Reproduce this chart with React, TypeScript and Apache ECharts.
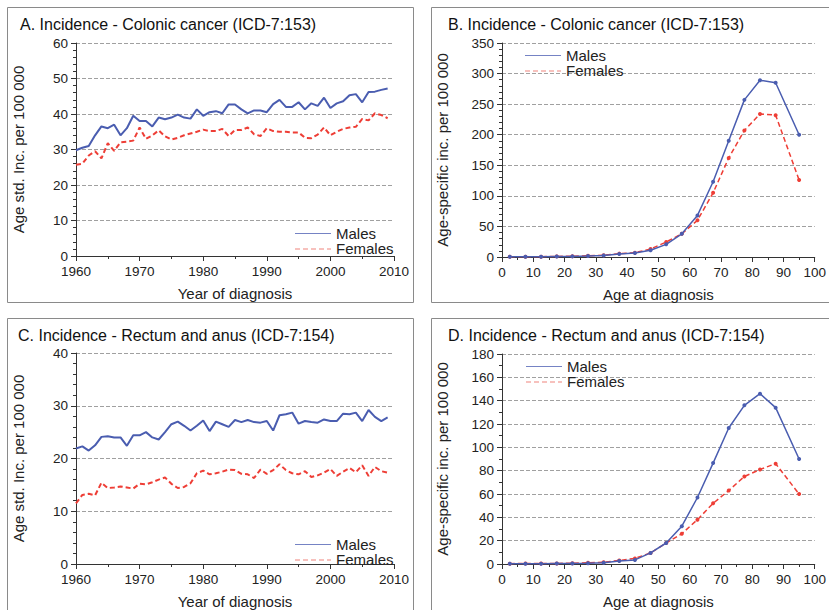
import React, { useEffect, useRef } from "react";
import * as echarts from "echarts";

const years = [
  1960, 1961, 1962, 1963, 1964, 1965, 1966, 1967, 1968, 1969,
  1970, 1971, 1972, 1973, 1974, 1975, 1976, 1977, 1978, 1979,
  1980, 1981, 1982, 1983, 1984, 1985, 1986, 1987, 1988, 1989,
  1990, 1991, 1992, 1993, 1994, 1995, 1996, 1997, 1998, 1999,
  2000, 2001, 2002, 2003, 2004, 2005, 2006, 2007, 2008, 2009,
];

const colonMalesByYear = [
  29.8, 30.5, 31, 34, 36.5, 36, 37, 34, 36, 39.5,
  38, 38, 36.5, 39, 38.5, 39, 39.8, 39, 38.7, 41.3,
  39.5, 40.5, 40.8, 40.2, 42.7, 42.7, 41.3, 40.2, 41, 41,
  40.5, 42.8, 44, 42, 42, 43.3, 41.3, 43, 42.3, 44.6,
  41.7, 43, 43.6, 45.3, 45.6, 43.3, 46.2, 46.3, 46.8, 47.2,
];
const colonFemalesByYear = [
  25.7, 26, 28.3, 29.5, 27.5, 31.8, 29.6, 32, 32.2, 32.5,
  36.2, 33, 34, 35.4, 33.7, 32.8, 33.3, 34, 34.5, 35,
  35.6, 35.2, 35.2, 35.8, 33.8, 35.5, 35.5, 36.2, 34.3, 33.8,
  36, 35.2, 35, 35, 34.8, 34.8, 33.3, 33.2, 34.2, 36.2,
  34, 35, 35.8, 36.2, 36.4, 38.6, 38.2, 40.2, 39.7, 38.8,
];
const rectumMalesByYear = [
  21.9, 22.3, 21.5, 22.5, 24.1, 24.2, 24, 24, 22.4, 24.4,
  24.4, 25, 24, 23.6, 25, 26.5, 27, 26.2, 25.3, 26.2,
  27.2, 25.2, 27, 26.5, 26, 27.3, 26.9, 27.3, 26.9, 26.8,
  27.1, 25.3, 28.2, 28.4, 28.7, 26.6, 27.1, 26.9, 26.8, 27.4,
  27.1, 27.1, 28.5, 28.4, 28.7, 27.1, 29.2, 27.9, 27.1, 27.8,
];
const rectumFemalesByYear = [
  11.5, 13.1, 13.3, 13, 15.4, 14.4, 14.5, 14.7, 14.5, 14.3,
  15.2, 15.1, 15.5, 16, 16.4, 15.2, 14.4, 14.6, 15.3, 17.2,
  17.7, 17, 17.2, 17.5, 17.9, 17.8, 17.1, 17, 16.3, 17.9,
  17.1, 17.8, 18.9, 17.8, 17.2, 17, 17.6, 16.5, 16.8, 17.3,
  18, 16.7, 17.5, 18.2, 17.4, 18.7, 16.7, 18.4, 17.6, 17.3,
];

const ages = [2.5, 7.5, 12.5, 17.5, 22.5, 27.5, 32.5, 37.5, 42.5, 47.5, 52.5, 57.5, 62.5, 67.5, 72.5, 77.5, 82.5, 87.5, 95];

const colonMalesByAge = [0.3, 0.3, 0.4, 0.8, 1, 1.5, 2.5, 5, 6.5, 11, 20.7, 38, 68, 123, 190, 257, 289, 285, 200];
const colonFemalesByAge = [0.3, 0.4, 0.5, 1, 1.3, 2, 3, 5.5, 7, 13, 24.5, 38, 60, 105, 162, 207, 234, 232, 126];
const rectumMalesByAge = [0.2, 0.3, 0.3, 0.4, 0.5, 0.7, 1, 2.5, 3.5, 9.5, 18, 32.4, 57, 86.5, 116.6, 136, 146, 134, 90];
const rectumFemalesByAge = [0.3, 0.5, 0.5, 0.5, 0.6, 1, 1.5, 3, 4.8, 9.5, 18, 26, 38, 52, 63, 75, 81, 86, 60];

const panelTitles = [
  "A. Incidence - Colonic cancer (ICD-7:153)",
  "B. Incidence - Colonic cancer (ICD-7:153)",
  "C. Incidence - Rectum and anus (ICD-7:154)",
  "D. Incidence - Rectum and anus (ICD-7:154)",
];
const seriesNames = ["Males", "Females"];

const BLUE = "#4a5db0";
const RED = "#ee3e36";
const FONT = "Liberation Sans, Arial, sans-serif";

function pairs(xs: number[], ys: number[]) {
  return xs.map((x, i) => [x, ys[i]]);
}

export default function App() {
  const ref = useRef<HTMLDivElement>(null);
  useEffect(() => {
    if (!ref.current) return;
    const chart = echarts.init(ref.current, undefined, { renderer: "svg" });

    const grids = [
      { left: 76, right: 435, top: 43, bottom: 354 },
      { left: 502, right: 7, top: 43, bottom: 353 },
      { left: 76, right: 435, top: 353, bottom: 44 },
      { left: 502, right: 7, top: 354, bottom: 43 },
    ];

    const axisLine = { show: true, lineStyle: { color: "#333", width: 1 } };
    const axisLabel = { color: "#222", fontSize: 13.5, fontFamily: FONT, margin: 8 };
    const nameTextStyle = { color: "#222", fontSize: 15, fontFamily: FONT };

    const xAxis = [0, 1, 2, 3].map((i) => {
      const isYear = i % 2 === 0;
      return {
        type: "value",
        gridIndex: i,
        min: isYear ? 1960 : 0,
        max: isYear ? 2010 : 100,
        interval: 10,
        name: isYear ? "Year of diagnosis" : "Age at diagnosis",
        nameLocation: "middle",
        nameGap: 30,
        nameTextStyle,
        axisLine,
        axisTick: { show: true, length: 5, lineStyle: { color: "#333" } },
        minorTick: { show: true, splitNumber: 2, length: 3, lineStyle: { color: "#333" } },
        axisLabel: {
          ...axisLabel,
          showMinLabel: true,
          showMaxLabel: true,
          formatter: (v: number) => String(v),
        },
        splitLine: { show: false },
      };
    });

    const yMax = [60, 350, 40, 180];
    const yInt = [10, 50, 10, 20];
    const yMinor = [5, 5, 5, 2];
    const yAxis = [0, 1, 2, 3].map((i) => ({
      type: "value",
      gridIndex: i,
      min: 0,
      max: yMax[i],
      interval: yInt[i],
      name: i % 2 === 0 ? "Age std. Inc. per 100 000" : "Age-specific inc. per 100 000",
      nameLocation: "middle",
      nameGap: i % 2 === 0 ? 50 : 52,
      nameTextStyle,
      axisLine,
      axisTick: { show: true, length: 5, lineStyle: { color: "#333" } },
      minorTick: { show: true, splitNumber: yMinor[i], length: 3, lineStyle: { color: "#333" } },
      axisLabel: { ...axisLabel, formatter: (v: number) => String(v) },
      splitLine: { show: true, lineStyle: { color: "#a0a0a0", type: [4, 2], width: 1 } },
    }));

    const dataSets = [
      [pairs(years, colonMalesByYear), pairs(years, colonFemalesByYear)],
      [pairs(ages, colonMalesByAge), pairs(ages, colonFemalesByAge)],
      [pairs(years, rectumMalesByYear), pairs(years, rectumFemalesByYear)],
      [pairs(ages, rectumMalesByAge), pairs(ages, rectumFemalesByAge)],
    ];

    const series: any[] = [];
    dataSets.forEach((sets, i) => {
      const isAge = i % 2 === 1;
      sets.forEach((d, k) => {
        const color = k === 0 ? BLUE : RED;
        series.push({
          type: "line",
          name: seriesNames[k],
          xAxisIndex: i,
          yAxisIndex: i,
          data: d,
          color,
          showSymbol: isAge,
          symbol: "circle",
          symbolSize: isAge ? 4 : 0,
          lineStyle: { color, width: isAge ? 1.5 : 2, type: k === 0 ? "solid" : [5, 3] },
          itemStyle: { color },
          z: 3 + (1 - k),
        });
      });
    });

    const titlePos = [
      { left: 20, top: 16 },
      { left: 448, top: 16 },
      { left: 18, top: 327 },
      { left: 448, top: 327 },
    ];
    const title = titlePos.map((p, i) => ({
      ...p,
      text: panelTitles[i],
      padding: 0,
      textStyle: { color: "#111", fontSize: 16, fontWeight: "normal", fontFamily: FONT },
    }));

    const boxes = [
      { x: 7, y: 7, w: 406, h: 295 },
      { x: 431, y: 7, w: 410, h: 295 },
      { x: 7, y: 318, w: 406, h: 310 },
      { x: 431, y: 318, w: 410, h: 310 },
    ];
    const graphic: any[] = boxes.map((b) => ({
      type: "rect",
      shape: { x: b.x + 0.5, y: b.y + 0.5, width: b.w, height: b.h },
      style: { fill: "none", stroke: "#8a8a8a", lineWidth: 1 },
      silent: true,
      z: 0,
    }));

    // legends (line sample + label), one per panel
    const legendPos = [
      { x: 295, y: 233 },
      { x: 525, y: 55 },
      { x: 295, y: 544 },
      { x: 526, y: 366 },
    ];
    legendPos.forEach((p) => {
      seriesNames.forEach((name, k) => {
        const y = p.y + k * 15.5;
        graphic.push({
          type: "line",
          shape: { x1: p.x, y1: y + 0.5, x2: p.x + 36, y2: y + 0.5 },
          style: {
            stroke: k === 0 ? "#7583c4" : "#f0847d",
            lineWidth: 1.2,
            lineDash: k === 0 ? null : [5, 3],
          },
          silent: true,
          z: 10,
        });
        graphic.push({
          type: "text",
          x: p.x + 41,
          y: y,
          style: {
            text: name,
            fill: "#222",
            font: `15px ${FONT}`,
            textVerticalAlign: "middle",
            verticalAlign: "middle",
          },
          silent: true,
          z: 10,
        });
      });
    });

    chart.setOption({
      animation: false,
      backgroundColor: "#ffffff",
      textStyle: { fontFamily: FONT },
      title,
      grid: grids,
      xAxis,
      yAxis,
      series,
      graphic,
    });

    return () => chart.dispose();
  }, []);

  return (
    <div
      ref={ref}
      style={{ position: "fixed", left: 0, top: 0, width: 829, height: 610, background: "#fff" }}
    />
  );
}
